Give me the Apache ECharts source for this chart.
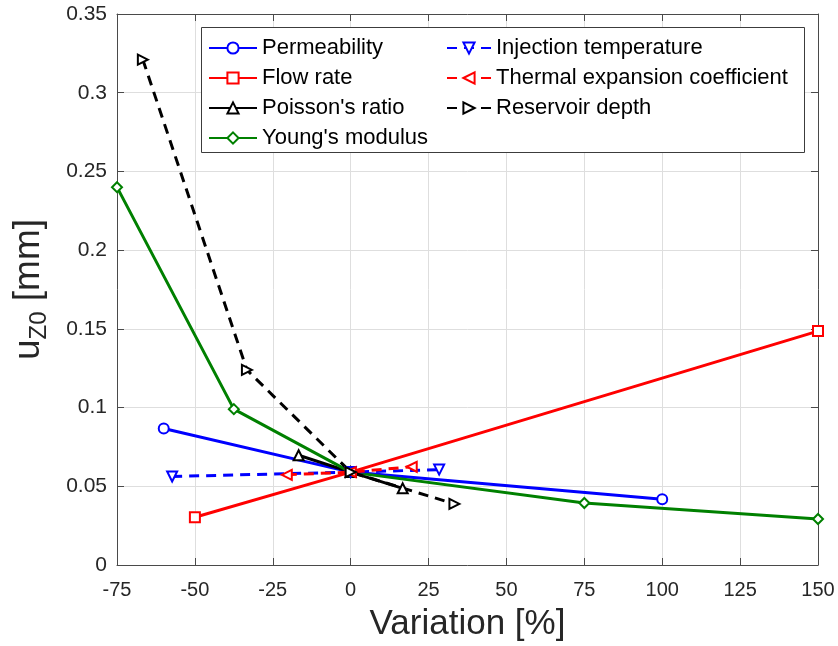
<!DOCTYPE html>
<html>
<head>
<meta charset="utf-8">
<script src="https://cdn.jsdelivr.net/npm/echarts@6/dist/echarts.min.js"></script>
<style>
html,body{margin:0;padding:0;background:#fff;}
#chart{width:838px;height:646px;}
</style>
</head>
<body>
<div id="chart"></div>
<script>
// ---- data ----
const seriesNames = ["Permeability", "Flow rate", "Poisson's ratio", "Young's modulus",
                     "Injection temperature", "Thermal expansion coefficient", "Reservoir depth"];
const permeabilityX = [-60, 0, 100];
const permeabilityY = [0.0867, 0.059, 0.0417];
const flowRateX = [-50, 0, 150];
const flowRateY = [0.0303, 0.059, 0.1486];
const poissonX = [-16.7, 0, 16.7];
const poissonY = [0.0697, 0.059, 0.0487];
const youngX = [-75, -37.5, 0, 75, 150];
const youngY = [0.2400, 0.0990, 0.059, 0.0394, 0.0292];
const injectionX = [-57.3, 0, 28.4];
const injectionY = [0.0562, 0.059, 0.0606];
const thermalX = [-20.5, 0, 19.6];
const thermalY = [0.0573, 0.059, 0.0624];
const reservoirX = [-66.7, -33.3, 0, 33.3];
const reservoirY = [0.321, 0.1239, 0.059, 0.0388];
const xTickValues = [-75, -50, -25, 0, 25, 50, 75, 100, 125, 150];
const yTickValues = [0, 0.05, 0.1, 0.15, 0.2, 0.25, 0.3, 0.35];

function pairs(xs, ys) { return xs.map((x, i) => [x, ys[i]]); }

const FONT = "'Liberation Sans', Arial, Helvetica, sans-serif";
const AXIS_COLOR = '#4a4a4a';
const GRID_COLOR = '#dedede';

const chart = echarts.init(document.getElementById('chart'), null, {renderer: 'canvas'});

function mkSeries(name, xs, ys, color, dashed, symbol, rotate) {
  return {
    name: name,
    type: 'line',
    xAxisIndex: 0, yAxisIndex: 0,
    data: pairs(xs, ys),
    symbol: symbol,
    symbolSize: 10,
    symbolRotate: rotate || 0,
    showAllSymbol: true,
    lineStyle: {color: color, width: 3, type: dashed ? [10, 7] : 'solid'},
    itemStyle: {color: color, borderColor: color, borderWidth: 2.2},
    emphasis: {disabled: true},
    animation: false
  };
}

const xMin = xTickValues[0], xMax = xTickValues[xTickValues.length - 1];
const yMin = yTickValues[0], yMax = yTickValues[yTickValues.length - 1];

const baseAxisCommon = {
  axisLine: {show: true, onZero: false, lineStyle: {color: AXIS_COLOR, width: 1}},
  axisTick: {show: true, inside: true, length: 7, lineStyle: {color: AXIS_COLOR}},
  splitLine: {show: false}
};

const option = {
  backgroundColor: '#fff',
  animation: false,
  textStyle: {fontFamily: FONT},
  grid: {left: 117, right: 20, top: 14, bottom: 81, containLabel: false, outerBoundsMode: 'none'},
  xAxis: [
    Object.assign({}, baseAxisCommon, {
      type: 'value', min: xMin, max: xMax, interval: 25, position: 'bottom',
      axisLabel: {fontSize: 20, color: '#262626', margin: 15, fontFamily: FONT},
      splitLine: {show: true, lineStyle: {color: GRID_COLOR, width: 1}},
      name: 'Variation [%]', nameLocation: 'middle', nameGap: 42,
      nameTextStyle: {fontSize: 35, color: '#262626', fontFamily: FONT}
    }),
    Object.assign({}, baseAxisCommon, {
      type: 'value', min: xMin, max: xMax, interval: 25, position: 'top',
      axisLabel: {show: false}
    })
  ],
  yAxis: [
    Object.assign({}, baseAxisCommon, {
      type: 'value', min: yMin, max: yMax, interval: 0.05, position: 'left',
      axisLabel: {fontSize: 21, color: '#262626', margin: 10, fontFamily: FONT},
      splitLine: {show: true, lineStyle: {color: GRID_COLOR, width: 1}},
      name: '{a|u}{b|Z0}{a| [mm]}', nameLocation: 'middle', nameGap: 70, nameRotate: 90,
      nameTextStyle: {
        color: '#262626', fontFamily: FONT,
        rich: {
          a: {fontSize: 37, color: '#262626', fontFamily: FONT},
          b: {fontSize: 24, color: '#262626', fontFamily: FONT, verticalAlign: 'bottom', padding: [0, 0, -4, 0]}
        }
      }
    }),
    Object.assign({}, baseAxisCommon, {
      type: 'value', min: yMin, max: yMax, interval: 0.05, position: 'right',
      axisLabel: {show: false}
    })
  ],
  legend: [
    {
      data: seriesNames.slice(0, 4), orient: 'vertical', left: 203, top: 32,
      itemWidth: 48, itemHeight: 14, itemGap: 8, z: 6,
      textStyle: {fontSize: 22, color: '#000', fontFamily: FONT},
      selectedMode: false
    },
    {
      data: seriesNames.slice(4), orient: 'vertical', left: 441, top: 32,
      itemWidth: 44, itemHeight: 14, itemGap: 8, z: 6,
      textStyle: {fontSize: 22, color: '#000', fontFamily: FONT},
      selectedMode: false
    }
  ],
  graphic: [
    {
      type: 'rect', z: 5, silent: true,
      shape: {x: 201.5, y: 27.5, width: 603, height: 125},
      style: {fill: '#fff', stroke: '#3c3c3c', lineWidth: 1}
    }
  ],
  series: [
    mkSeries(seriesNames[0], permeabilityX, permeabilityY, '#0000ff', false, 'emptyCircle'),
    mkSeries(seriesNames[1], flowRateX, flowRateY, '#ff0000', false, 'emptyRect'),
    mkSeries(seriesNames[2], poissonX, poissonY, '#000000', false, 'emptyTriangle'),
    mkSeries(seriesNames[3], youngX, youngY, '#008000', false, 'emptyDiamond'),
    mkSeries(seriesNames[4], injectionX, injectionY, '#0000ff', true, 'emptyTriangle', 180),
    mkSeries(seriesNames[5], thermalX, thermalY, '#ff0000', true, 'emptyTriangle', 90),
    mkSeries(seriesNames[6], reservoirX, reservoirY, '#000000', true, 'emptyTriangle', -90)
  ]
};
chart.setOption(option);
</script>
</body>
</html>
